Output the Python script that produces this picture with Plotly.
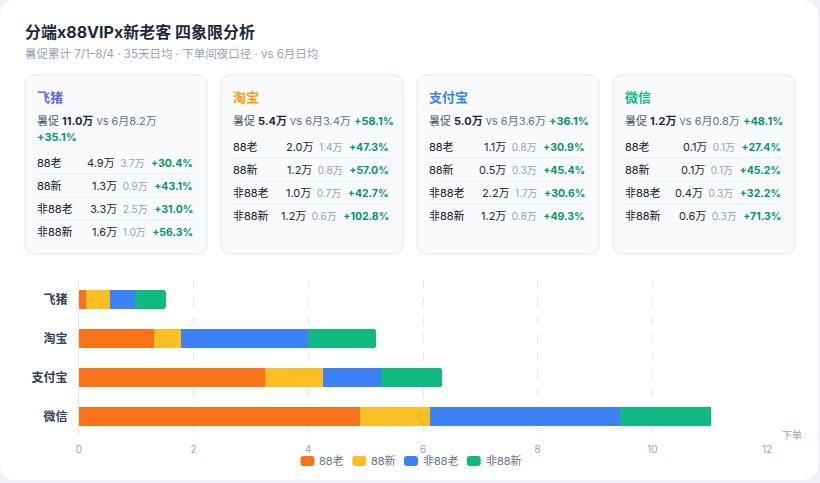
import plotly.graph_objects as go

# ---------------- data ----------------
platforms = ["飞猪", "淘宝", "支付宝", "微信"]
segments = ["88老", "88新", "非88老", "非88新"]

# card summary (万)
promo_total = [11.0, 5.4, 5.0, 1.2]
june_total = [8.2, 3.4, 3.6, 0.8]
total_growth = [35.1, 58.1, 36.1, 48.1]

# card rows per platform, order = segments
seg_promo = [[4.9, 1.3, 3.3, 1.6], [2.0, 1.2, 1.0, 1.2], [1.1, 0.5, 2.2, 1.2], [0.1, 0.1, 0.4, 0.6]]
seg_june = [[3.7, 0.9, 2.5, 1.0], [1.4, 0.8, 0.7, 0.6], [0.8, 0.3, 1.7, 0.8], [0.1, 0.1, 0.3, 0.3]]
seg_growth = [[30.4, 43.1, 31.0, 56.3], [47.3, 57.0, 42.7, 102.8], [30.9, 45.4, 30.6, 49.3], [27.4, 45.2, 32.2, 71.3]]

# stacked bar values as drawn (per segment, across platforms)
bar_88old = [0.12, 1.31, 3.25, 4.90]
bar_88new = [0.42, 0.47, 1.01, 1.23]
bar_non88old = [0.43, 2.21, 1.00, 3.31]
bar_non88new = [0.54, 1.19, 1.07, 1.59]
bar_values = [bar_88old, bar_88new, bar_non88old, bar_non88new]

x_ticks = [0, 2, 4, 6, 8, 10, 12]

title_text = "分端x88VIPx新老客 四象限分析"
subtitle_text = "暑促累计 7/1–8/4 · 35天日均 · 下单间夜口径 · vs 6月日均"
axis_name = "下单"

# ---------------- style ----------------
W, H = 820, 483
L, R, T, B = 79, 767, 280, 436
PW, PH = R - L, B - T
seg_colors = ["#f97316", "#fbbf24", "#3b82f6", "#10b981"]
plat_colors = ["#6366f1", "#f59e0b", "#3b82f6", "#10b981"]
GREEN = "#059669"
PAGE_BG = "#eff1f5"
FONT = "Inter, 'Noto Sans CJK SC', sans-serif"


def X(px):
    return (px - L) / PW


def Y(py):
    return (B - py) / PH


def rrect(x0, y0, x1, y1, r):
    return (f"M {X(x0+r)},{Y(y0)} L {X(x1-r)},{Y(y0)} Q {X(x1)},{Y(y0)} {X(x1)},{Y(y0+r)} "
            f"L {X(x1)},{Y(y1-r)} Q {X(x1)},{Y(y1)} {X(x1-r)},{Y(y1)} "
            f"L {X(x0+r)},{Y(y1)} Q {X(x0)},{Y(y1)} {X(x0)},{Y(y1-r)} "
            f"L {X(x0)},{Y(y0+r)} Q {X(x0)},{Y(y0)} {X(x0+r)},{Y(y0)} Z")


def tw(s, size=11, bold=False):
    w = 0
    for ch in s:
        o = ord(ch)
        if o > 0x2E80:
            w += size
        elif ch.isdigit() or ch == "+":
            w += 0.58 * size
        elif ch in ". ":
            w += 0.28 * size
        elif ch == "%":
            w += 0.86 * size
        else:
            w += 0.5 * size
    return w * (1.04 if bold else 1.0)


shapes = []
annotations = []


def ann(px, py, text, size=11, color="#1e293b", xanchor="left"):
    annotations.append(dict(xref="paper", yref="paper", x=X(px), y=Y(py), text=text,
                            showarrow=False, xanchor=xanchor, yanchor="middle",
                            font=dict(size=size, color=color, family=FONT), borderpad=0))


# white page card
shapes.append(dict(type="path", xref="paper", yref="paper", path=rrect(0, 0, 818, 480, 16),
                   fillcolor="#ffffff", line=dict(width=0), layer="below"))

# title
ann(24, 32, f"<b>{title_text}</b>", size=16, color="#1e293b")
ann(24, 54, subtitle_text, size=11.5, color="#94a3b8")

# platform cards
card_w, card_gap, card_top, card_bot = 182, 14, 75, 254
for i, p in enumerate(platforms):
    cl = 25 + i * (card_w + card_gap)
    cr = cl + card_w
    shapes.append(dict(type="path", xref="paper", yref="paper", path=rrect(cl, card_top, cr, card_bot, 10),
                       fillcolor="#f8fafc", line=dict(color="#e2e8f0", width=1), layer="below"))
    ann(cl + 11, 97, f"<b>{p}</b>", size=13, color=plat_colors[i])

    t_s, j_s, g_s = f"{promo_total[i]:.1f}万", f"{june_total[i]:.1f}万", f"+{total_growth[i]:.1f}%"
    base = (f"<span style='color:#475569'>暑促 </span><span style='color:#1e293b'><b>{t_s}</b></span>"
            f"<span style='color:#64748b'> vs 6月{j_s}</span>")
    pct = f"<span style='color:{GREEN}'><b>{g_s}</b></span>"
    width = tw("暑促 ") + tw(t_s, bold=True) + tw(f" vs 6月{j_s}") + tw(" ") + tw(g_s, bold=True)
    if width > card_w - 24:
        ann(cl + 11, 121, base, size=11)
        ann(cl + 11, 137, pct, size=11)
        last = 137
    else:
        ann(cl + 11, 121, base + " " + pct, size=11)
        last = 121

    row0 = last + 25.5
    for k, s in enumerate(segments):
        ry = row0 + k * 23
        ann(cl + 11, ry, s, size=11, color="#111827")
        txt = (f"<span style='color:#1f2937'>{seg_promo[i][k]:.1f}万</span>\u2002"
               f"<span style='color:#94a3b8;font-size:10px'>{seg_june[i][k]:.1f}万</span>\u2002\u200a"
               f"<span style='color:{GREEN};font-size:10.5px'><b>+{seg_growth[i][k]:.1f}%</b></span>")
        ann(cr - 13, ry, txt, size=11, xanchor="right")
        if k < len(segments) - 1:
            shapes.append(dict(type="line", xref="paper", yref="paper",
                               x0=X(cl + 12), x1=X(cr - 13), y0=Y(ry + 11.5), y1=Y(ry + 11.5),
                               line=dict(color="#e8ecf1", width=1), layer="below"))

# axis name
ann(781, 435, axis_name, size=10, color="#94a3b8")

# custom legend
icon_w, icon_h, gap_t, gap_i = 14, 10, 4, 10
widths = [icon_w + gap_t + tw(s) for s in segments]
total = sum(widths) + gap_i * (len(segments) - 1)
lx = W / 2 - total / 2
ly = 461
for k, s in enumerate(segments):
    shapes.append(dict(type="path", xref="paper", yref="paper",
                       path=rrect(lx, ly - icon_h / 2, lx + icon_w, ly + icon_h / 2, 3),
                       fillcolor=seg_colors[k], line=dict(width=0)))
    ann(lx + icon_w + gap_t, ly, s, size=11, color="#64748b")
    lx += widths[k] + gap_i

# ---------------- figure ----------------
fig = go.Figure()
for k, s in enumerate(segments):
    fig.add_trace(go.Bar(y=platforms, x=bar_values[k], name=s, orientation="h",
                         marker=dict(color=seg_colors[k], line=dict(width=0)),
                         showlegend=False))

fig.update_layout(
    width=W, height=H,
    margin=dict(l=L, r=W - R, t=T, b=H - B, pad=0),
    paper_bgcolor=PAGE_BG,
    plot_bgcolor="rgba(0,0,0,0)",
    barmode="stack", bargap=0.5, barcornerradius=3,
    font=dict(family=FONT),
    shapes=shapes, annotations=annotations,
    showlegend=False,
    xaxis=dict(range=[0, 12], tickvals=x_ticks, showgrid=True, gridcolor="#e5e7eb",
               griddash="dash", gridwidth=1, zeroline=False, showline=False,
               tickfont=dict(size=10, color="#94a3b8"), ticklabelstandoff=6, fixedrange=True),
    yaxis=dict(categoryorder="array", categoryarray=platforms, autorange="reversed",
               showgrid=False, zeroline=False, showline=True, linecolor="#e2e8f0", linewidth=1,
               tickfont=dict(size=12, color="#334155", weight="bold"), ticklabelstandoff=8,
               fixedrange=True),
)

fig.write_html("out.html", config={"displayModeBar": False},
               post_script=f"document.body.style.margin='0';document.body.style.background='{PAGE_BG}';")
